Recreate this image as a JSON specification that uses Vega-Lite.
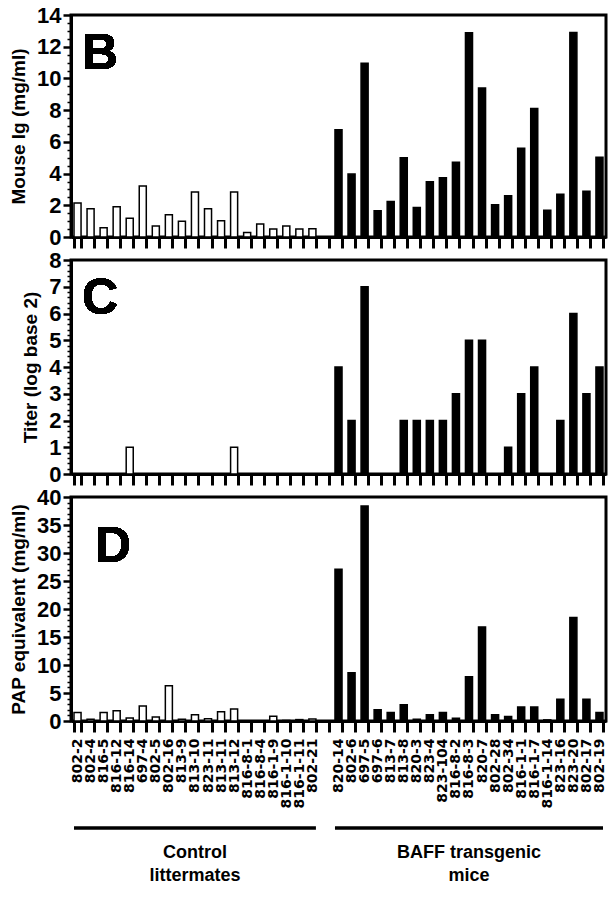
{
  "$schema": "https://vega.github.io/schema/vega-lite/v6.json",
  "padding": {"left": 8, "top": 2, "right": 4, "bottom": 5},
  "spacing": -4,
  "background": "white",
  "datasets": {
    "mice": [
      {"id": "802-2", "group": "Control", "ig": 2.15, "titer": 0, "pap": 1.5},
      {"id": "802-4", "group": "Control", "ig": 1.78, "titer": 0, "pap": 0.3},
      {"id": "816-5", "group": "Control", "ig": 0.59, "titer": 0, "pap": 1.5},
      {"id": "816-12", "group": "Control", "ig": 1.91, "titer": 0, "pap": 1.85},
      {"id": "816-14", "group": "Control", "ig": 1.19, "titer": 1, "pap": 0.55},
      {"id": "697-4", "group": "Control", "ig": 3.21, "titer": 0, "pap": 2.7},
      {"id": "802-5", "group": "Control", "ig": 0.69, "titer": 0, "pap": 0.7},
      {"id": "802-16", "group": "Control", "ig": 1.4, "titer": 0, "pap": 6.3},
      {"id": "813-9", "group": "Control", "ig": 0.99, "titer": 0, "pap": 0.3},
      {"id": "813-10", "group": "Control", "ig": 2.83, "titer": 0, "pap": 1.1},
      {"id": "823-11", "group": "Control", "ig": 1.78, "titer": 0, "pap": 0.4},
      {"id": "813-11", "group": "Control", "ig": 1.03, "titer": 0, "pap": 1.65},
      {"id": "813-12", "group": "Control", "ig": 2.83, "titer": 1, "pap": 2.15},
      {"id": "816-8-1", "group": "Control", "ig": 0.29, "titer": 0, "pap": 0},
      {"id": "816-8-4", "group": "Control", "ig": 0.82, "titer": 0, "pap": 0},
      {"id": "816-1-9", "group": "Control", "ig": 0.5, "titer": 0, "pap": 0.85},
      {"id": "816-1-10", "group": "Control", "ig": 0.69, "titer": 0, "pap": 0.1},
      {"id": "816-1-11", "group": "Control", "ig": 0.5, "titer": 0, "pap": 0.25},
      {"id": "802-21", "group": "Control", "ig": 0.52, "titer": 0, "pap": 0.35},
      {"id": "820-14", "group": "BAFF", "ig": 6.76, "titer": 4, "pap": 27.1},
      {"id": "802-6", "group": "BAFF", "ig": 3.97, "titer": 2, "pap": 8.6},
      {"id": "697-5", "group": "BAFF", "ig": 10.96, "titer": 7, "pap": 38.4},
      {"id": "697-6", "group": "BAFF", "ig": 1.65, "titer": 0, "pap": 2.0},
      {"id": "813-7", "group": "BAFF", "ig": 2.24, "titer": 0, "pap": 1.5},
      {"id": "813-8", "group": "BAFF", "ig": 5.0, "titer": 2, "pap": 2.9},
      {"id": "820-3", "group": "BAFF", "ig": 1.86, "titer": 2, "pap": 0.3},
      {"id": "823-4", "group": "BAFF", "ig": 3.48, "titer": 2, "pap": 1.1},
      {"id": "823-104", "group": "BAFF", "ig": 3.74, "titer": 2, "pap": 1.5},
      {"id": "816-8-2", "group": "BAFF", "ig": 4.71, "titer": 3, "pap": 0.5},
      {"id": "816-8-3", "group": "BAFF", "ig": 12.88, "titer": 5, "pap": 7.9},
      {"id": "820-7", "group": "BAFF", "ig": 9.4, "titer": 5, "pap": 16.8},
      {"id": "802-28", "group": "BAFF", "ig": 2.03, "titer": 0, "pap": 1.1},
      {"id": "802-34", "group": "BAFF", "ig": 2.6, "titer": 1, "pap": 0.8},
      {"id": "816-1-1", "group": "BAFF", "ig": 5.6, "titer": 3, "pap": 2.5},
      {"id": "816-1-7", "group": "BAFF", "ig": 8.11, "titer": 4, "pap": 2.5},
      {"id": "816-1-14", "group": "BAFF", "ig": 1.69, "titer": 0, "pap": 0.2},
      {"id": "823-16", "group": "BAFF", "ig": 2.7, "titer": 2, "pap": 3.9},
      {"id": "823-20", "group": "BAFF", "ig": 12.9, "titer": 6, "pap": 18.5},
      {"id": "802-17", "group": "BAFF", "ig": 2.89, "titer": 3, "pap": 3.9},
      {"id": "802-19", "group": "BAFF", "ig": 5.03, "titer": 4, "pap": 1.5}
    ],
    "groups": [
      {"label": "Control\nlittermates", "first": "802-2", "last": "802-21", "mid": "813-10"},
      {"label": "BAFF transgenic\nmice", "first": "820-14", "last": "802-19", "mid": "816-8-3"}
    ]
  },
  "vconcat": [
    {
      "width": 535,
      "height": 222,
      "data": {"name": "mice"},
      "layer": [
        {
          "mark": {"type": "bar", "stroke": "black", "strokeWidth": 1.5},
          "encoding": {
            "x": {"field": "id", "type": "nominal", "scale": {"domain": ["802-2","802-4","816-5","816-12","816-14","697-4","802-5","802-16","813-9","813-10","823-11","813-11","813-12","816-8-1","816-8-4","816-1-9","816-1-10","816-1-11","802-21"," ","820-14","802-6","697-5","697-6","813-7","813-8","820-3","823-4","823-104","816-8-2","816-8-3","820-7","802-28","802-34","816-1-1","816-1-7","816-1-14","823-16","823-20","802-17","802-19"], "paddingInner": 0.46, "paddingOuter": 0.23}, "axis": {"labels": false, "title": null}},
            "y": {"field": "ig", "type": "quantitative", "scale": {"domain": [0, 14], "nice": false}, "axis": {"values": [0,2,4,6,8,10,12,14], "title": "Mouse Ig (mg/ml)"}},
            "color": {"field": "group", "type": "nominal", "scale": {"domain": ["Control", "BAFF"], "range": ["white", "black"]}, "legend": null}
          }
        },
        {
          "mark": {"type": "text", "fontSize": 50, "fontWeight": "bold", "align": "center", "baseline": "alphabetic", "color": "black"},
          "encoding": {
            "x": {"datum": "816-5", "type": "nominal", "bandPosition": 0, "axis": {"labels": false, "title": null}},
            "y": {"datum": 10.6, "type": "quantitative", "axis": {"orient": "left", "values": [0.5,1,1.5,2.5,3,3.5,4.5,5,5.5,6.5,7,7.5,8.5,9,9.5,10.5,11,11.5,12.5,13,13.5], "labels": false, "title": null, "domain": false, "tickSize": 4, "tickWidth": 1.5}},
            "text": {"value": "B"}
          }
        }
      ],
      "resolve": {"axis": {"y": "independent"}}
    },
    {
      "width": 535,
      "height": 214,
      "data": {"name": "mice"},
      "layer": [
        {
          "mark": {"type": "bar", "stroke": "black", "strokeWidth": 1.5},
          "encoding": {
            "x": {"field": "id", "type": "nominal", "scale": {"domain": ["802-2","802-4","816-5","816-12","816-14","697-4","802-5","802-16","813-9","813-10","823-11","813-11","813-12","816-8-1","816-8-4","816-1-9","816-1-10","816-1-11","802-21"," ","820-14","802-6","697-5","697-6","813-7","813-8","820-3","823-4","823-104","816-8-2","816-8-3","820-7","802-28","802-34","816-1-1","816-1-7","816-1-14","823-16","823-20","802-17","802-19"], "paddingInner": 0.46, "paddingOuter": 0.23}, "axis": {"labels": false, "title": null}},
            "y": {"field": "titer", "type": "quantitative", "scale": {"domain": [0, 8], "nice": false}, "axis": {"values": [0,1,2,3,4,5,6,7,8], "title": "Titer (log base 2)"}},
            "color": {"field": "group", "type": "nominal", "scale": {"domain": ["Control", "BAFF"], "range": ["white", "black"]}, "legend": null}
          }
        },
        {
          "mark": {"type": "text", "fontSize": 50, "fontWeight": "bold", "align": "center", "baseline": "alphabetic", "color": "black"},
          "encoding": {
            "x": {"datum": "816-5", "type": "nominal", "bandPosition": 0, "axis": {"labels": false, "title": null}},
            "y": {"datum": 6.0, "type": "quantitative", "axis": {"orient": "left", "values": [0.2,0.4,0.6,0.8,1.2,1.4,1.6,1.8,2.2,2.4,2.6,2.8,3.2,3.4,3.6,3.8,4.2,4.4,4.6,4.8,5.2,5.4,5.6,5.8,6.2,6.4,6.6,6.8,7.2,7.4,7.6,7.8], "labels": false, "title": null, "domain": false, "tickSize": 4, "tickWidth": 1.5}},
            "text": {"value": "C"}
          }
        }
      ],
      "resolve": {"axis": {"y": "independent"}}
    },
    {
      "width": 535,
      "height": 224,
      "data": {"name": "mice"},
      "layer": [
        {
          "mark": {"type": "bar", "stroke": "black", "strokeWidth": 1.5},
          "encoding": {
            "x": {"field": "id", "type": "nominal", "scale": {"domain": ["802-2","802-4","816-5","816-12","816-14","697-4","802-5","802-16","813-9","813-10","823-11","813-11","813-12","816-8-1","816-8-4","816-1-9","816-1-10","816-1-11","802-21"," ","820-14","802-6","697-5","697-6","813-7","813-8","820-3","823-4","823-104","816-8-2","816-8-3","820-7","802-28","802-34","816-1-1","816-1-7","816-1-14","823-16","823-20","802-17","802-19"], "paddingInner": 0.46, "paddingOuter": 0.23}, "axis": {"title": null}},
            "y": {"field": "pap", "type": "quantitative", "scale": {"domain": [0, 40], "nice": false}, "axis": {"values": [0,5,10,15,20,25,30,35,40], "title": "PAP equivalent (mg/ml)"}},
            "color": {"field": "group", "type": "nominal", "scale": {"domain": ["Control", "BAFF"], "range": ["white", "black"]}, "legend": null}
          }
        },
        {
          "mark": {"type": "text", "fontSize": 50, "fontWeight": "bold", "align": "center", "baseline": "alphabetic", "color": "black"},
          "encoding": {
            "x": {"datum": "816-12", "type": "nominal", "bandPosition": 0, "axis": {"title": null}},
            "y": {"datum": 28.4, "type": "quantitative", "axis": {"orient": "left", "values": [1,2,3,4,6,7,8,9,11,12,13,14,16,17,18,19,21,22,23,24,26,27,28,29,31,32,33,34,36,37,38,39], "labels": false, "title": null, "domain": false, "tickSize": 4, "tickWidth": 1.5}},
            "text": {"value": "D"}
          }
        }
      ],
      "resolve": {"axis": {"y": "independent"}}
    },
    {
      "width": 535,
      "height": 36,
      "view": {"stroke": null},
      "data": {"name": "groups"},
      "mark": {"type": "rule", "strokeWidth": 3.5, "color": "black"},
      "encoding": {
        "x": {"field": "first", "type": "nominal", "bandPosition": 0, "scale": {"domain": ["802-2","802-4","816-5","816-12","816-14","697-4","802-5","802-16","813-9","813-10","823-11","813-11","813-12","816-8-1","816-8-4","816-1-9","816-1-10","816-1-11","802-21"," ","820-14","802-6","697-5","697-6","813-7","813-8","820-3","823-4","823-104","816-8-2","816-8-3","820-7","802-28","802-34","816-1-1","816-1-7","816-1-14","823-16","823-20","802-17","802-19"], "paddingInner": 0.46, "paddingOuter": 0.23}, "axis": null},
        "x2": {"field": "last", "bandPosition": 1}
      }
    },
    {
      "width": 535,
      "height": 14,
      "view": {"stroke": null},
      "data": {"name": "groups"},
      "mark": {"type": "text", "fontSize": 18, "fontWeight": "bold", "lineBreak": "\n", "lineHeight": 23, "baseline": "middle", "align": "center", "color": "black"},
      "encoding": {
        "x": {"field": "mid", "type": "nominal", "scale": {"domain": ["802-2","802-4","816-5","816-12","816-14","697-4","802-5","802-16","813-9","813-10","823-11","813-11","813-12","816-8-1","816-8-4","816-1-9","816-1-10","816-1-11","802-21"," ","820-14","802-6","697-5","697-6","813-7","813-8","820-3","823-4","823-104","816-8-2","816-8-3","820-7","802-28","802-34","816-1-1","816-1-7","816-1-14","823-16","823-20","802-17","802-19"], "paddingInner": 0.46, "paddingOuter": 0.23}, "axis": null},
        "text": {"field": "label"}
      }
    }
  ],
  "config": {
    "font": "Liberation Sans",
    "view": {"stroke": "black", "strokeWidth": 3},
    "axis": {"grid": false, "domainColor": "black", "domainWidth": 3, "tickColor": "black", "labelColor": "black", "titleColor": "black", "labelFontWeight": "bold", "titleFontWeight": "bold", "labelFont": "Liberation Sans", "titleFont": "Liberation Sans"},
    "axisY": {"labelFontSize": 22, "titleFontSize": 19, "tickSize": 8, "tickWidth": 2.5, "labelPadding": 2, "titlePadding": 8},
    "axisX": {"tickSize": 11, "tickWidth": 3, "labelAngle": -90, "labelFont": "DejaVu Sans", "labelFontSize": 14, "labelPadding": 6, "tickBand": "extent", "labelOverlap": false}
  }
}
